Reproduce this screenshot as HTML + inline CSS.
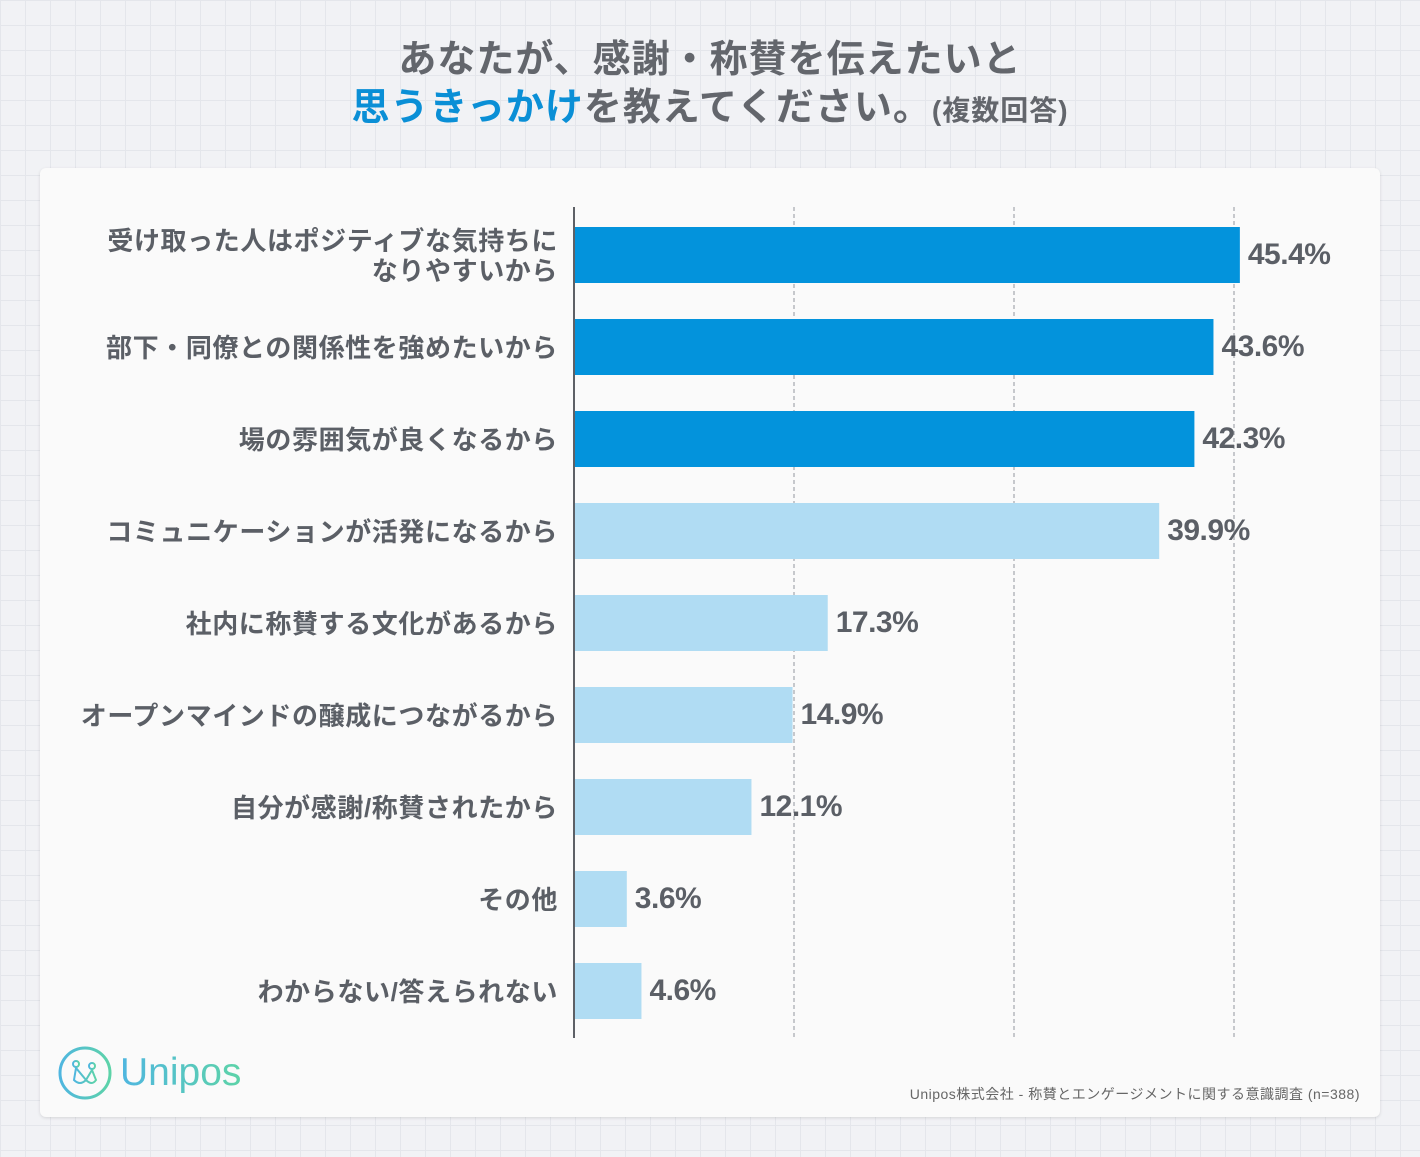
<!DOCTYPE html>
<html><head><meta charset="utf-8"><style>
body{margin:0;width:1420px;height:1157px;overflow:hidden;background-color:#f1f2f5;
background-image:linear-gradient(#e4e6eb 1px,transparent 1px),linear-gradient(90deg,#e4e6eb 1px,transparent 1px);background-size:25px 25px;
font-family:"Liberation Sans","Noto Sans CJK JP",sans-serif;position:relative}
.title{position:absolute;left:0;width:1420px;text-align:center;font-weight:bold;color:#63666c;font-size:38px;line-height:48px;letter-spacing:1px}
.card{position:absolute;left:40px;top:168px;width:1340px;height:949px;background:#fafafa;border-radius:6px;box-shadow:0 1px 3px rgba(0,0,0,.12)}
.lbl{position:absolute;right:862px;font-weight:bold;color:#5b5f66;font-size:26px;letter-spacing:0.6px;line-height:30px;text-align:right;white-space:nowrap}
.val{position:absolute;font-weight:bold;color:#5b5f66;font-size:30px;letter-spacing:-0.5px;transform:translateY(-50%)}
</style></head><body>
<div class="title" style="top:36px">あなたが、感謝・称賛を伝えたいと</div>
<div class="title" style="top:84px"><span style="color:#0a8fd6">思うきっかけ</span>を教えてください。<span style="font-size:28px">(複数回答)</span></div>
<div class="card"></div>
<div id="chart"></div>
<div style="position:absolute;left:58px;top:1046px;display:flex;align-items:center">
<svg width="54" height="54" viewBox="0 0 54 54"><defs><linearGradient id="g" x1="0" x2="1"><stop offset="0" stop-color="#4fb6e0"/><stop offset="1" stop-color="#5dd3a8"/></linearGradient></defs><circle cx="27" cy="27" r="25" fill="none" stroke="url(#g)" stroke-width="3"/><circle cx="18" cy="18" r="3" fill="none" stroke="url(#g)" stroke-width="2"/><circle cx="34" cy="20" r="3" fill="none" stroke="url(#g)" stroke-width="2"/><path d="M18 22 L16 34 Q22 40 28 34 Z M34 24 L28 34 Q34 40 38 34 Z" fill="none" stroke="url(#g)" stroke-width="2"/></svg>
<span style="font-size:39px;margin-left:8px;background:linear-gradient(90deg,#4fb6e0,#5dd3a8);-webkit-background-clip:text;color:transparent">Unipos</span></div>
<div style="position:absolute;right:60px;top:1084px;font-size:14px;color:#666;letter-spacing:.5px">Unipos株式会社 - 称賛とエンゲージメントに関する意識調査 (n=388)</div>
<script>
const categories=["受け取った人はポジティブな気持ちに\nなりやすいから","部下・同僚との関係性を強めたいから","場の雰囲気が良くなるから","コミュニケーションが活発になるから","社内に称賛する文化があるから","オープンマインドの醸成につながるから","自分が感謝/称賛されたから","その他","わからない/答えられない"];
const values=[45.4,43.6,42.3,39.9,17.3,14.9,12.1,3.6,4.6];
const highlighted=[true,true,true,false,false,false,false,false,false];
const ticks=[0,15,30,45];
const x0=574,pxPer=220/15,y0=255,pitch=92,bh=56;
const xs=v=>x0+v*pxPer, ys=i=>y0+i*pitch;
const c=document.getElementById('chart');
let svg='<svg width="1420" height="1157" style="position:absolute;left:0;top:0">';
ticks.slice(1).forEach(t=>{svg+=`<line x1="${xs(t)}" x2="${xs(t)}" y1="207" y2="1038" stroke="#b5b8bd" stroke-width="1.5" stroke-dasharray="4,3"/>`;});
values.forEach((v,i)=>{svg+=`<rect x="${x0}" y="${ys(i)-bh/2}" width="${xs(v)-x0}" height="${bh}" fill="${highlighted[i]?'#0393dc':'#b0dcf3'}"/>`;});
svg+=`<line x1="${x0}" x2="${x0}" y1="207" y2="1038" stroke="#5d6066" stroke-width="2"/></svg>`;
c.innerHTML=svg;
values.forEach((v,i)=>{
 const l=document.createElement('div');l.className='lbl';
 
 
 const lines=categories[i].split('\n');l.innerHTML=lines.join('<br>');
 l.style.top=(ys(i)-lines.length*15+1)+'px';c.appendChild(l);
 const t=document.createElement('div');t.className='val';
 
 
 t.textContent=v.toFixed(1)+'%';t.style.left=(xs(v)+8)+'px';t.style.top=ys(i)+'px';c.appendChild(t);
});
</script>
</body></html>
